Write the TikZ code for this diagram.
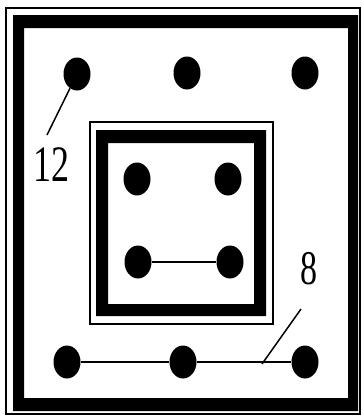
\documentclass[tikz,border=0pt]{standalone}
\usepackage{fontspec}
\setmainfont{Liberation Serif}
\usetikzlibrary{shapes.geometric}
\begin{document}
\begin{tikzpicture}[x=1pt,y=-1pt,
  dot/.style={ellipse,fill=black,draw=none,minimum width=27pt,minimum height=33pt,inner sep=0pt},
  conn/.style={line width=1.5pt,black},
  thinframe/.style={draw=black,line width=1.6pt},
  band/.style={fill=black,even odd rule},
  lbl/.style={inner sep=0pt,font=\fontsize{36}{40}\selectfont}]
\useasboundingbox (0,0) rectangle (364,418);
\fill[white] (0,0) rectangle (364,418);
% outer frame
\draw[thinframe] (6,8) rectangle (360,414);
\path[band] (13,15) rectangle (358,411) (24,28) rectangle (348,398);
% inner frame
\draw[thinframe] (90,122) rectangle (273,324);
\path[band] (96,130) rectangle (266,316) (108,143) rectangle (254,304);
% dots
\node[dot] (a1) at (77,74) {};
\node[dot] (a2) at (187,73) {};
\node[dot] (a3) at (305,73) {};
\node[dot] (i1) at (137,179) {};
\node[dot] (i2) at (228,179) {};
\node[dot] (i3) at (138,262) {};
\node[dot] (i4) at (230,262) {};
\node[dot] (b1) at (67,362) {};
\node[dot] (b2) at (183,362) {};
\node[dot] (b3) at (305,362) {};
% connectors
\draw[conn] (i3) -- (i4);
\draw[conn] (b1) -- (b2);
\draw[conn] (b2) -- (b3);
% labels
\coordinate (c12) at (47,135);
\draw[conn] (a1) -- (c12);
\node[lbl] (t12) at (51,165) {\scalebox{1}[1.42]{12}};
\coordinate (c8a) at (301,309);
\coordinate (c8b) at (262,364);
\draw[conn] (c8a) -- (c8b);
\node[lbl,font=\fontsize{34}{38}\selectfont] (t8) at (309,269) {\scalebox{1}[1.42]{8}};
\end{tikzpicture}
\end{document}
